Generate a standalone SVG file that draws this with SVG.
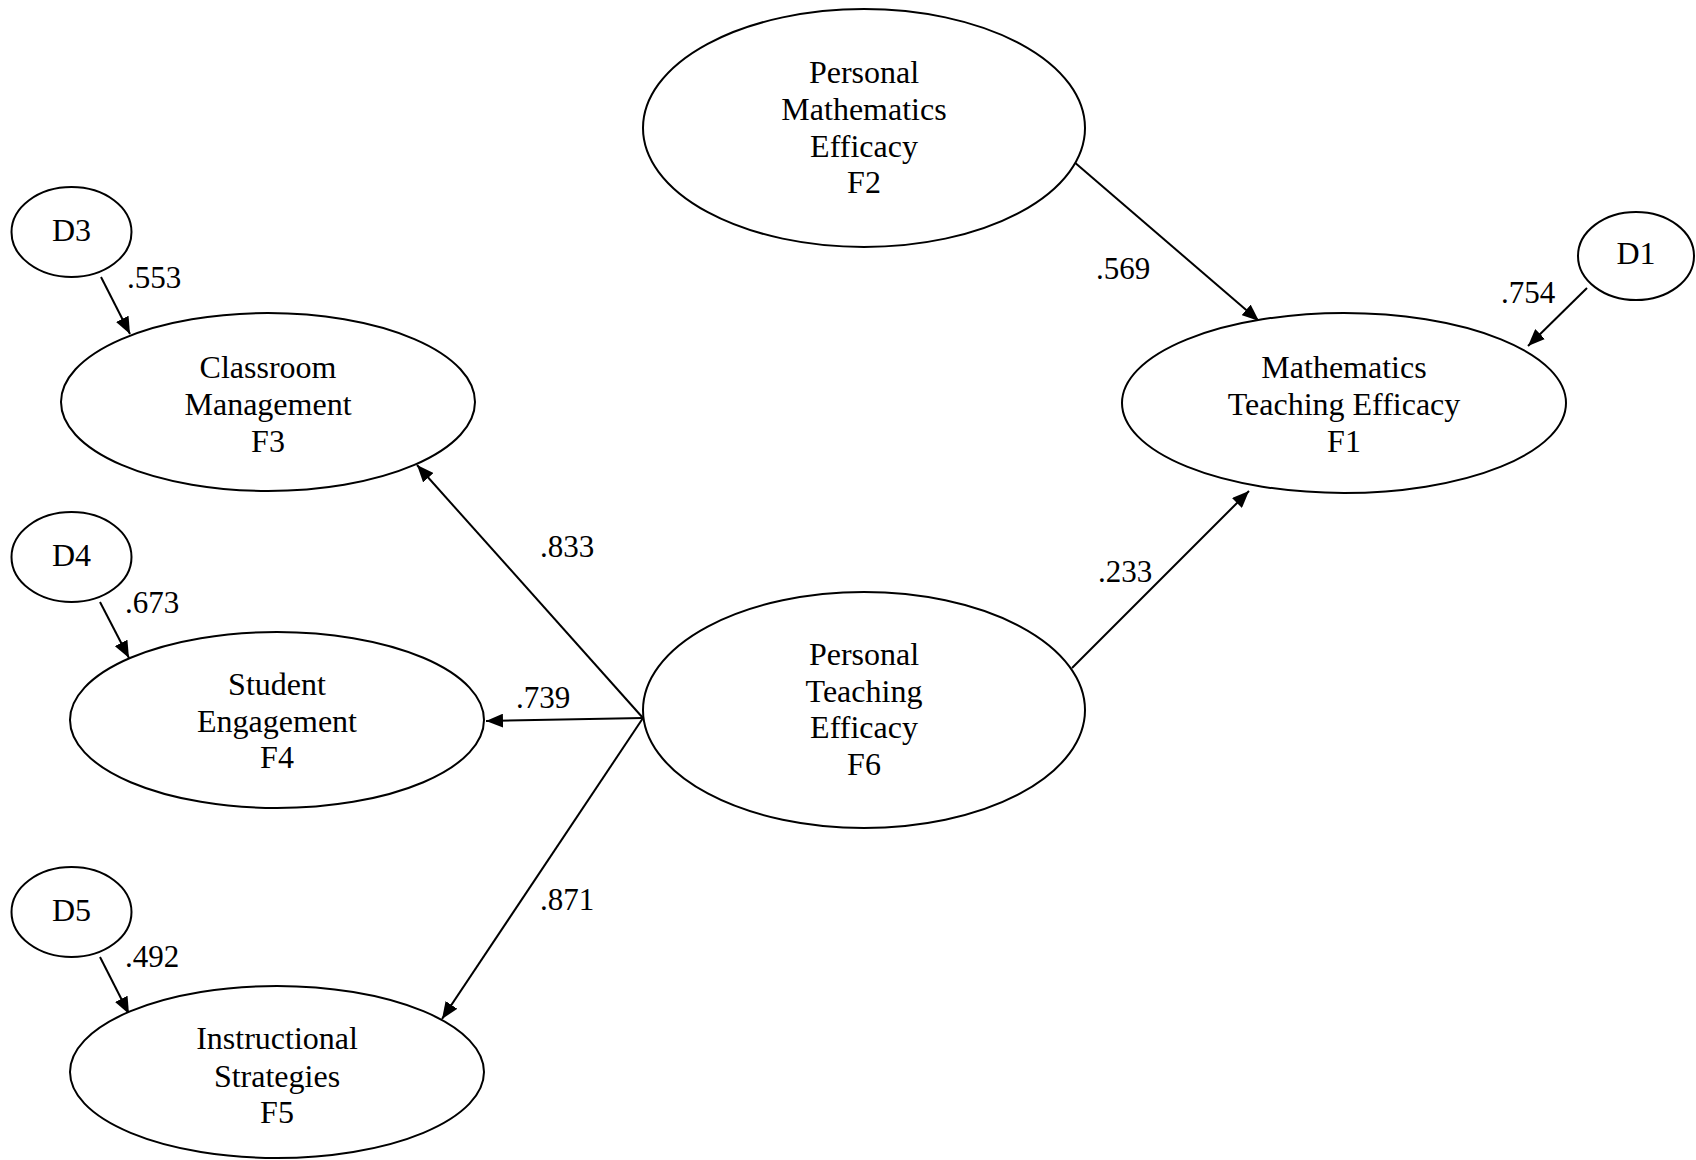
<svg xmlns="http://www.w3.org/2000/svg" width="1696" height="1160" viewBox="0 0 1696 1160">
<style>
.n{fill:#fff;stroke:#000;stroke-width:2}
.t{font-family:"Liberation Serif","Times New Roman",serif;font-size:32px;fill:#000;text-anchor:middle}
.l{font-family:"Liberation Serif","Times New Roman",serif;font-size:31px;fill:#000}
.c{stroke:#000;stroke-width:2;fill:none;marker-end:url(#ah)}
</style>
<defs>
<marker id="ah" markerUnits="userSpaceOnUse" markerWidth="18" markerHeight="14" refX="17" refY="7" orient="auto">
<path d="M0,0 L17,7 L0,14 z" fill="#000"/>
</marker>
</defs>
<rect width="1696" height="1160" fill="#fff"/>
<g id="connectors">
<line class="c" x1="1073" y1="161" x2="1259" y2="321"/>
<line class="c" x1="1587" y1="288" x2="1528" y2="346"/>
<line class="c" x1="1072" y1="668" x2="1249" y2="491"/>
<line class="c" x1="643" y1="718" x2="417" y2="465"/>
<line class="c" x1="643" y1="718" x2="486" y2="721"/>
<line class="c" x1="643" y1="718" x2="442" y2="1019"/>
<line class="c" x1="101" y1="277" x2="130" y2="334"/>
<line class="c" x1="100" y1="602" x2="129" y2="658"/>
<line class="c" x1="100" y1="957" x2="129" y2="1014"/>
<text class="l" x="1096" y="279">.569</text>
<text class="l" x="1501" y="303">.754</text>
<text class="l" x="1098" y="582">.233</text>
<text class="l" x="540" y="557">.833</text>
<text class="l" x="516" y="708">.739</text>
<text class="l" x="540" y="910">.871</text>
<text class="l" x="127" y="288">.553</text>
<text class="l" x="125" y="613">.673</text>
<text class="l" x="125" y="967">.492</text>
</g>
<g id="F2">
<ellipse class="n" cx="864" cy="128" rx="221" ry="119"/>
<text class="t" x="864" y="83">Personal</text>
<text class="t" x="864" y="120">Mathematics</text>
<text class="t" x="864" y="157">Efficacy</text>
<text class="t" x="864" y="193">F2</text>
</g>
<g id="F1">
<ellipse class="n" cx="1344" cy="403" rx="222" ry="90"/>
<text class="t" x="1344" y="378">Mathematics</text>
<text class="t" x="1344" y="415">Teaching Efficacy</text>
<text class="t" x="1344" y="452">F1</text>
</g>
<g id="D1">
<ellipse class="n" cx="1636" cy="256" rx="58" ry="44"/>
<text class="t" x="1636" y="264">D1</text>
</g>
<g id="F6">
<ellipse class="n" cx="864" cy="710" rx="221" ry="118"/>
<text class="t" x="864" y="665">Personal</text>
<text class="t" x="864" y="702">Teaching</text>
<text class="t" x="864" y="738">Efficacy</text>
<text class="t" x="864" y="775">F6</text>
</g>
<g id="F3">
<ellipse class="n" cx="268" cy="402" rx="207" ry="89"/>
<text class="t" x="268" y="378">Classroom</text>
<text class="t" x="268" y="415">Management</text>
<text class="t" x="268" y="452">F3</text>
</g>
<g id="D3">
<ellipse class="n" cx="71.5" cy="232" rx="60" ry="45"/>
<text class="t" x="71.5" y="241">D3</text>
</g>
<g id="F4">
<ellipse class="n" cx="277" cy="720" rx="207" ry="88"/>
<text class="t" x="277" y="695">Student</text>
<text class="t" x="277" y="732">Engagement</text>
<text class="t" x="277" y="768">F4</text>
</g>
<g id="D4">
<ellipse class="n" cx="71.5" cy="557" rx="60" ry="45"/>
<text class="t" x="71.5" y="566">D4</text>
</g>
<g id="F5">
<ellipse class="n" cx="277" cy="1072" rx="207" ry="86"/>
<text class="t" x="277" y="1049">Instructional</text>
<text class="t" x="277" y="1087">Strategies</text>
<text class="t" x="277" y="1123">F5</text>
</g>
<g id="D5">
<ellipse class="n" cx="71.5" cy="912" rx="60" ry="45"/>
<text class="t" x="71.5" y="921">D5</text>
</g>
</svg>
